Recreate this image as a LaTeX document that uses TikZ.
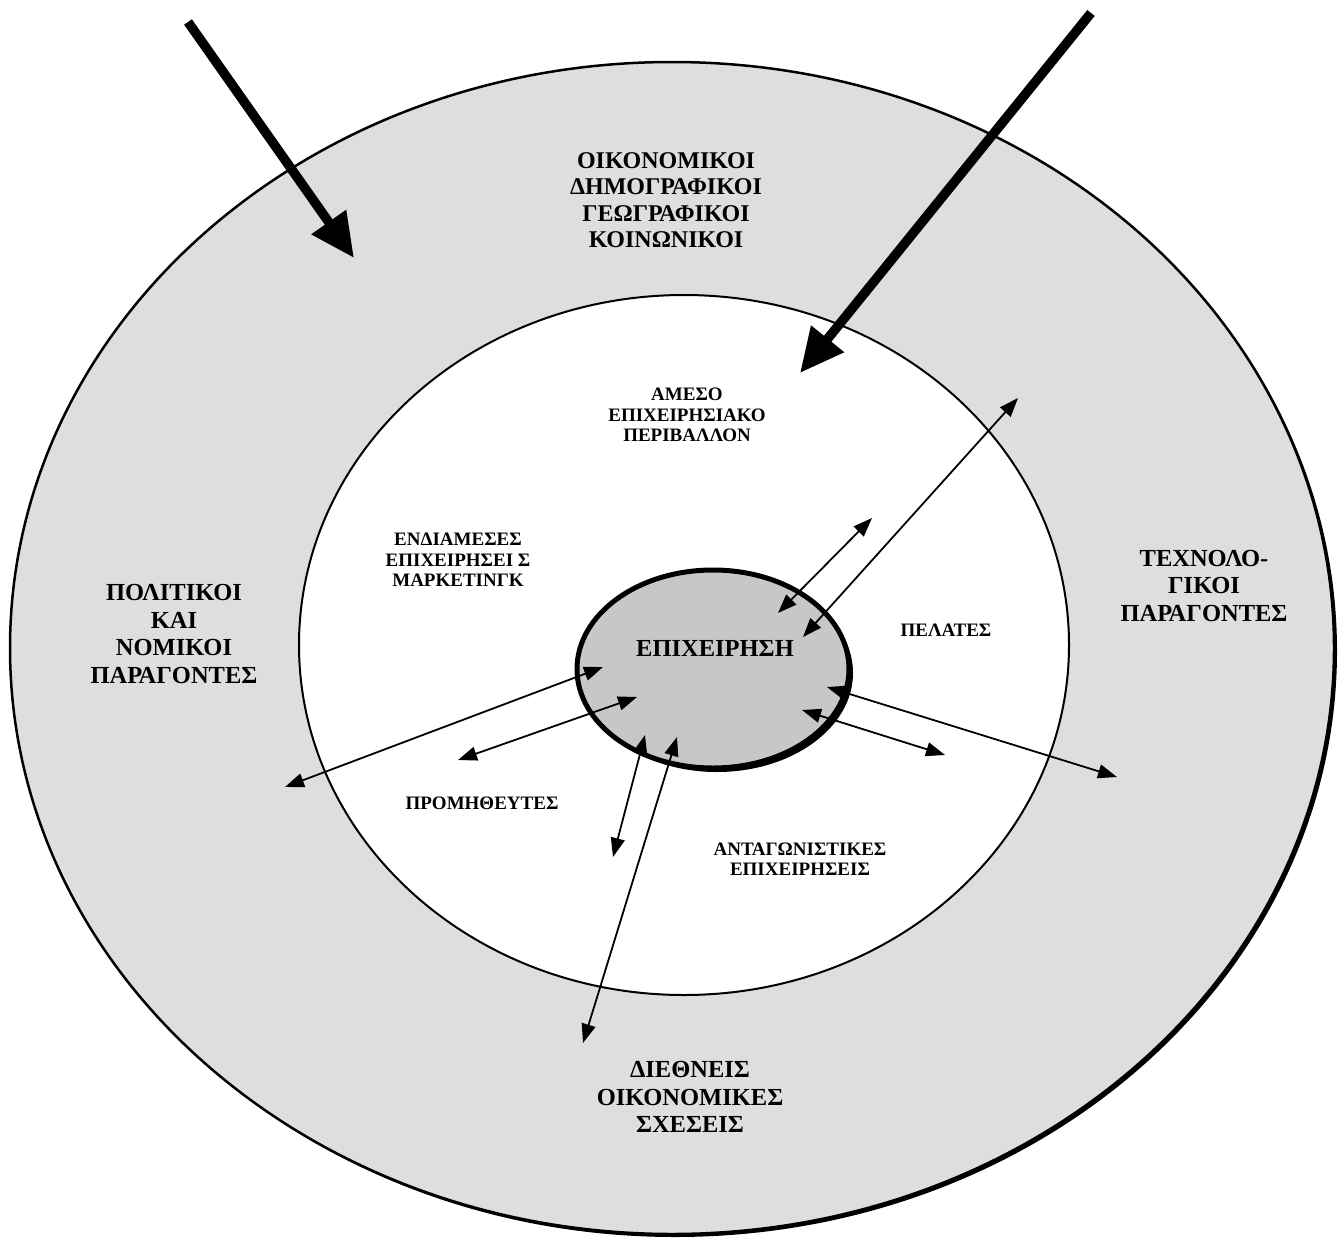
\documentclass[tikz,border=0pt]{standalone}
\usepackage{fontspec}
\setmainfont{Liberation Serif}
\usetikzlibrary{arrows.meta}
\begin{document}
\begin{tikzpicture}[x=1pt,y=-1pt,
  ringfill/.style={fill=black!13},
  corefill/.style={fill=black!22},
  bigarrow/.style={line width=9.5pt,-{Triangle[length=44pt,width=40pt]}},
  link/.style={line width=1.8pt,{Triangle[length=19pt,width=14pt]}-{Triangle[length=19pt,width=14pt]}},
  biglabel/.style={font=\bfseries\fontsize{24}{26.5}\selectfont,align=center,inner sep=0pt},
  sidelabel/.style={font=\bfseries\fontsize{24.5}{27.5}\selectfont,align=center,inner sep=0pt},
  smalllabel/.style={font=\bfseries\fontsize{19}{20.5}\selectfont,align=center,inner sep=0pt}]
\useasboundingbox[fill=white] (0,0) rectangle (1339,1239);

% outer ring (general environment) with its shadow
\fill[black] (675,651) ellipse [x radius=662pt, y radius=586pt];
\filldraw[ringfill, draw=black, line width=2.5pt] (672,648) ellipse [x radius=662pt, y radius=586pt];

% inner area (direct business environment)
\filldraw[fill=white, draw=black, line width=2pt] (684,645) ellipse [x radius=385pt, y radius=350pt];

% the firm at the centre
\fill[black] (717,673) ellipse [x radius=136pt, y radius=99pt];
\filldraw[corefill, draw=black, line width=5pt] (713,669) ellipse [x radius=136pt, y radius=99pt];

% labels
\node[biglabel] (macro) at (666,200) {ΟΙΚΟΝΟΜΙΚΟΙ\\ΔΗΜΟΓΡΑΦΙΚΟΙ\\ΓΕΩΓΡΑΦΙΚΟΙ\\ΚΟΙΝΩΝΙΚΟΙ};
\node[smalllabel] (micro) at (687,415) {ΑΜΕΣΟ\\ΕΠΙΧΕΙΡΗΣΙΑΚΟ\\ΠΕΡΙΒΑΛΛΟΝ};
\node[smalllabel] (inter) at (458,560) {ΕΝΔΙΑΜΕΣΕΣ\\ΕΠΙΧΕΙΡΗΣΕΙ Σ\\ΜΑΡΚΕΤΙΝΓΚ};
\node[sidelabel] (pol) at (174,634) {ΠΟΛΙΤΙΚΟΙ\\ΚΑΙ\\ΝΟΜΙΚΟΙ\\ΠΑΡΑΓΟΝΤΕΣ};
\node[sidelabel] (tech) at (1204,586) {ΤΕΧΝΟΛΟ-\\ΓΙΚΟΙ\\ΠΑΡΑΓΟΝΤΕΣ};
\node[sidelabel] (firm) at (715,648) {ΕΠΙΧΕΙΡΗΣΗ};
\node[smalllabel] (cust) at (946,630) {ΠΕΛΑΤΕΣ};
\node[smalllabel] (supp) at (482,803) {ΠΡΟΜΗΘΕΥΤΕΣ};
\node[smalllabel] (comp) at (800,859) {ΑΝΤΑΓΩΝΙΣΤΙΚΕΣ\\ΕΠΙΧΕΙΡΗΣΕΙΣ};
\node[sidelabel] (intl) at (690,1097) {ΔΙΕΘΝΕΙΣ\\ΟΙΚΟΝΟΜΙΚΕΣ\\ΣΧΕΣΕΙΣ};

% end points of the connectors
\coordinate (inL) at (188,22);   \coordinate (outL) at (354,258);
\coordinate (inR) at (1091,13);  \coordinate (outR) at (800,373);
\coordinate (a1) at (285,787);   \coordinate (b1) at (603,667);
\coordinate (a2) at (458,760);   \coordinate (b2) at (637,697);
\coordinate (a3) at (613,857);   \coordinate (b3) at (645,735);
\coordinate (a4) at (583,1043);  \coordinate (b4) at (677,737);
\coordinate (a5) at (945,755);   \coordinate (b5) at (802,710);
\coordinate (a6) at (1117,777);  \coordinate (b6) at (827,687);
\coordinate (a7) at (872,518);   \coordinate (b7) at (778,613);
\coordinate (a8) at (1018,398);  \coordinate (b8) at (803,637);

% influences from outside
\draw[bigarrow] (inL) -- (outL);
\draw[bigarrow] (inR) -- (outR);

% two-way relations of the firm
\draw[link] (a1) -- (b1);
\draw[link] (a2) -- (b2);
\draw[link] (a3) -- (b3);
\draw[link] (a4) -- (b4);
\draw[link] (a5) -- (b5);
\draw[link] (a6) -- (b6);
\draw[link] (a7) -- (b7);
\draw[link] (a8) -- (b8);
\end{tikzpicture}
\end{document}
